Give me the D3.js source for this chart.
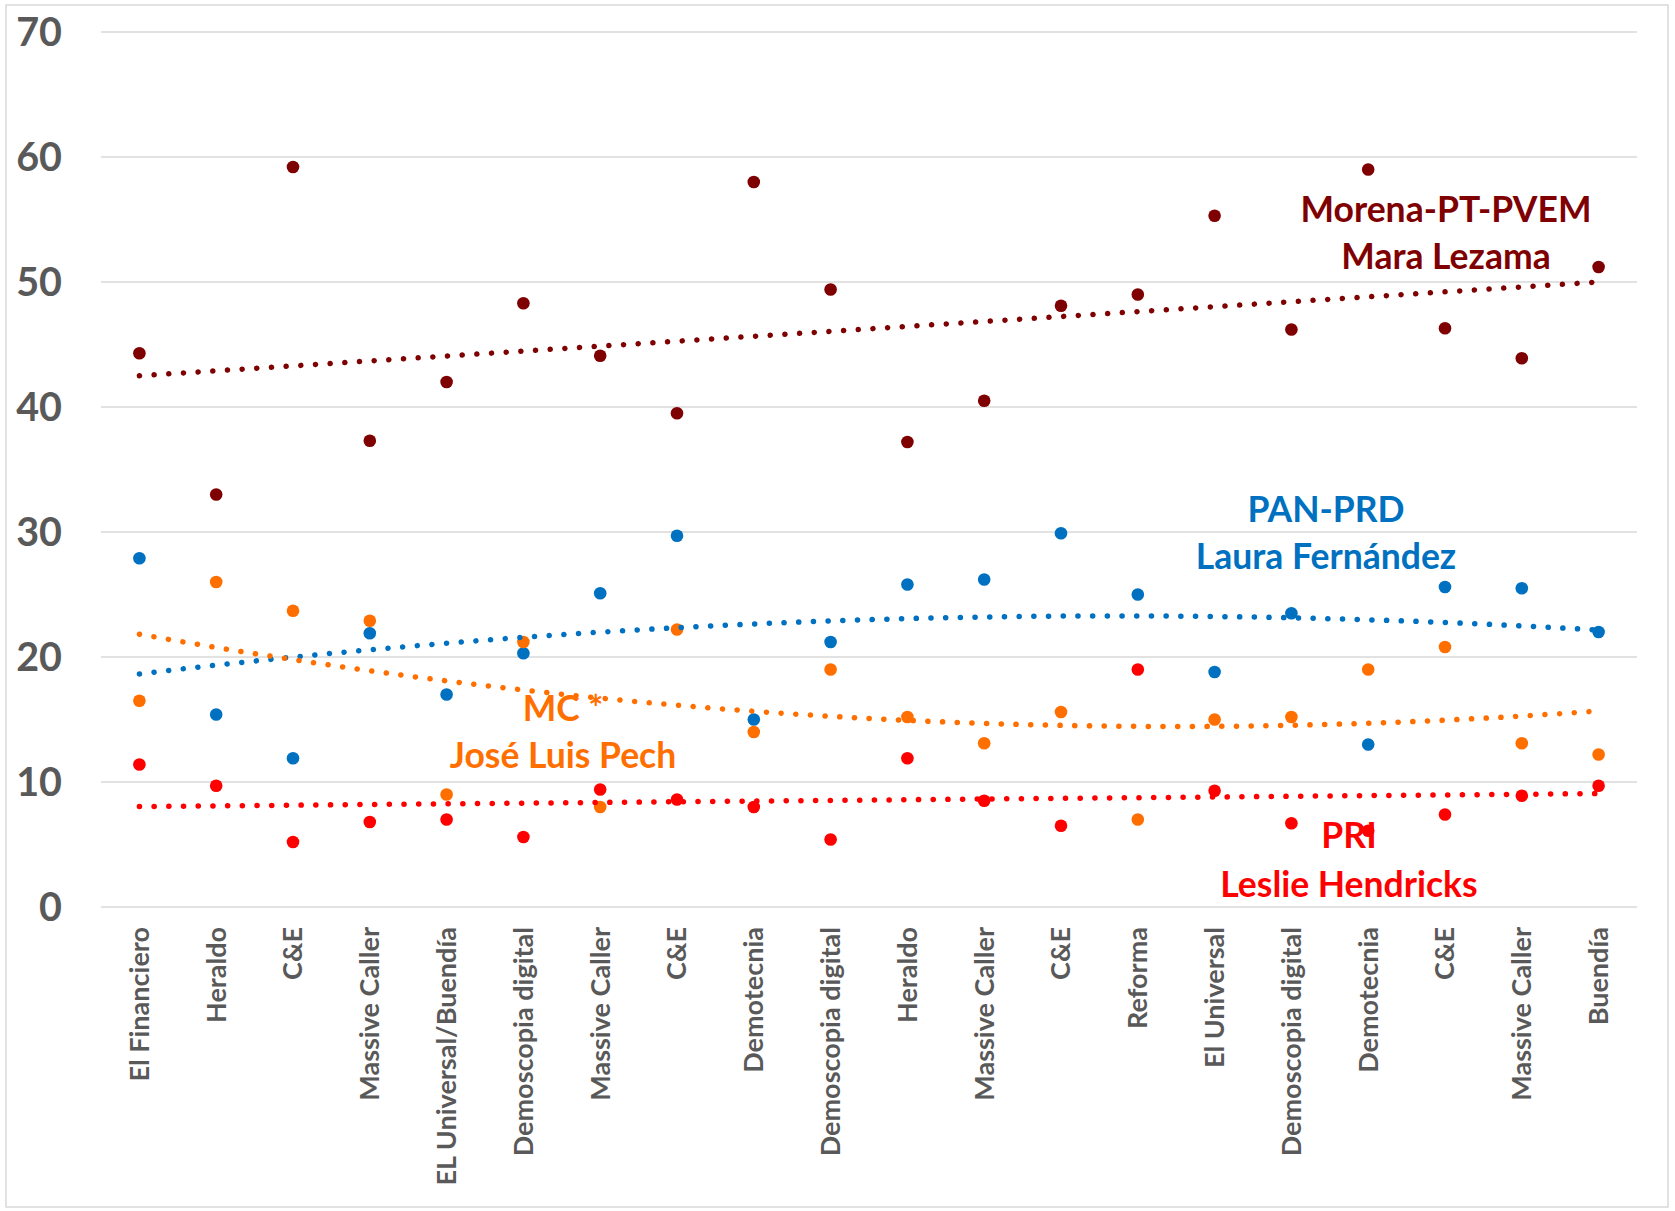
<!DOCTYPE html>
<html>
<head>
<meta charset="utf-8">
<script src="https://cdn.jsdelivr.net/npm/d3@7/dist/d3.min.js"></script>
<style>
  html, body { margin: 0; padding: 0; background: #fff; }
  svg { display: block; font-family: Lato, "Open Sans", sans-serif; }
</style>
</head>
<body>
<svg id="chart" width="1675" height="1211"></svg>
<script>
const categories = ["El Financiero","Heraldo","C&E","Massive Caller","EL Universal/Buendía","Demoscopia digital","Massive Caller","C&E","Demotecnia","Demoscopia digital","Heraldo","Massive Caller","C&E","Reforma","El Universal","Demoscopia digital","Demotecnia","C&E","Massive Caller","Buendía"];
const morena = [44.3,33.0,59.2,37.3,42.0,48.3,44.1,39.5,58.0,49.4,37.2,40.5,48.1,49.0,55.3,46.2,59.0,46.3,43.9,51.2];
const panprd = [27.9,15.4,11.9,21.9,17.0,20.3,25.1,29.7,15.0,21.2,25.8,26.2,29.9,25.0,18.8,23.5,13.0,25.6,25.5,22.0];
const mc     = [16.5,26.0,23.7,22.9,9.0,21.2,8.0,22.2,14.0,19.0,15.2,13.1,15.6,7.0,15.0,15.2,19.0,20.8,13.1,12.2];
const pri    = [11.4,9.7,5.2,6.8,7.0,5.6,9.4,8.6,8.0,5.4,11.9,8.5,6.5,19.0,9.3,6.7,6.1,7.4,8.9,9.7];
// Morena linear trendline (first and last category)
const morenaTrend = [42.5, 50.0];
const yTicks = [0,10,20,30,40,50,60,70];
const seriesNames = ["Morena-PT-PVEM","PAN-PRD","MC","PRI"];
const candidateNames = ["Mara Lezama","Laura Fernández","José Luis Pech","Leslie Hendricks"];
const seriesLabelLine1 = ["Morena-PT-PVEM","PAN-PRD","MC *","PRI"];
const trendOrders = [1,2,2,1];

(function(){
const colors = ["#7F0000","#0070C0","#FF6F00","#FF0000"];
const seriesData = [morena, panprd, mc, pri];

const svg = d3.select("#chart");
const mLeft = 101, mRight = 1637, mTop = 32, mBottom = 907;

// outer border
svg.append("rect").attr("x",6).attr("y",5).attr("width",1662).attr("height",1202)
  .attr("fill","#fff").attr("stroke","#D9D9D9").attr("stroke-width",1.5);

const x = d3.scaleBand().domain(d3.range(categories.length)).range([mLeft,mRight]).padding(0);
const y = d3.scaleLinear().domain([0,70]).range([mBottom,mTop]);
const xc = i => x(i) + x.bandwidth()/2;
const xLin = d3.scaleLinear().domain([0, categories.length-1]).range([xc(0), xc(categories.length-1)]);

// gridlines
svg.append("g").selectAll("line").data(yTicks).join("line")
  .attr("x1",mLeft).attr("x2",mRight)
  .attr("y1",d=>y(d)).attr("y2",d=>y(d))
  .attr("stroke","#D9D9D9").attr("stroke-width",1.5);

// y axis
const yAxis = d3.axisLeft(y).tickValues(yTicks).tickSize(0).tickPadding(0);
const gy = svg.append("g").attr("transform","translate(62,0)").call(yAxis);
gy.select(".domain").remove();
gy.selectAll("text").attr("fill","#595959").attr("font-size",39.5).attr("font-weight",700)
  .attr("font-family","Lato, sans-serif").attr("dy","0.35em");

// x axis
const xAxis = d3.axisBottom(x).tickFormat(i=>categories[i]).tickSize(0).tickPadding(0);
const gx = svg.append("g").attr("transform",`translate(0,${mBottom})`).call(xAxis);
gx.select(".domain").remove();
gx.selectAll("text")
  .attr("fill","#595959").attr("font-size",27).attr("font-weight",700)
  .attr("font-family","Lato, sans-serif")
  .attr("text-anchor","end")
  .attr("transform","rotate(-90)")
  .attr("x",-20).attr("y",0).attr("dy","0.35em");

// polynomial least squares
function polyfit(xs, ys, order) {
  const n = order + 1;
  const A = Array.from({length:n},()=>Array(n).fill(0));
  const b = Array(n).fill(0);
  xs.forEach((xv,k)=>{
    for (let i=0;i<n;i++){
      for (let j=0;j<n;j++) A[i][j] += Math.pow(xv,i+j);
      b[i] += Math.pow(xv,i)*ys[k];
    }
  });
  for (let i=0;i<n;i++){
    let p=i;
    for (let r=i+1;r<n;r++) if (Math.abs(A[r][i])>Math.abs(A[p][i])) p=r;
    [A[i],A[p]]=[A[p],A[i]]; [b[i],b[p]]=[b[p],b[i]];
    for (let r=i+1;r<n;r++){
      const f=A[r][i]/A[i][i];
      for (let c=i;c<n;c++) A[r][c]-=f*A[i][c];
      b[r]-=f*b[i];
    }
  }
  const coef=Array(n).fill(0);
  for (let i=n-1;i>=0;i--){
    let s=b[i];
    for (let c=i+1;c<n;c++) s-=A[i][c]*coef[c];
    coef[i]=s/A[i][i];
  }
  return t => coef.reduce((acc,c,i)=>acc+c*Math.pow(t,i),0);
}

// markers
seriesData.forEach((vals,si)=>{
  svg.append("g").selectAll("circle").data(vals).join("circle")
    .attr("cx",(d,i)=>xc(i)).attr("cy",d=>y(d)).attr("r",6.3)
    .attr("fill",colors[si]);
});

// trendlines
const line = d3.line().x(d=>xLin(d[0])).y(d=>y(d[1]));
const last = categories.length-1;
seriesData.forEach((vals,si)=>{
  let pts;
  if (si === 0) {
    pts = [[0, morenaTrend[0]], [last, morenaTrend[1]]];
  } else {
    const idx = d3.range(1, vals.length+1);
    const f = polyfit(idx, vals, trendOrders[si]);
    pts = d3.range(0, last+0.001, 0.05).map(t=>[t, f(t+1)]);
  }
  svg.append("path").attr("d",line(pts)).attr("fill","none")
    .attr("stroke",colors[si]).attr("stroke-width",5.5)
    .attr("stroke-linecap","round").attr("stroke-dasharray","0.1 14.6");
});

// series labels
const labelPos = [[1446,210,257],[1326,510,557],[563,709,756],[1349,836,885]];
seriesData.forEach((vals,si)=>{
  const g = svg.append("g").attr("fill",colors[si]).attr("font-weight",700)
    .attr("font-size",35.5).attr("text-anchor","middle").attr("font-family","Lato, sans-serif");
  g.append("text").attr("x",labelPos[si][0]).attr("y",labelPos[si][1]).attr("dy","0.35em").text(seriesLabelLine1[si]);
  g.append("text").attr("x",labelPos[si][0]).attr("y",labelPos[si][2]).attr("dy","0.35em").text(candidateNames[si]);
});
})();
</script>
</body>
</html>
